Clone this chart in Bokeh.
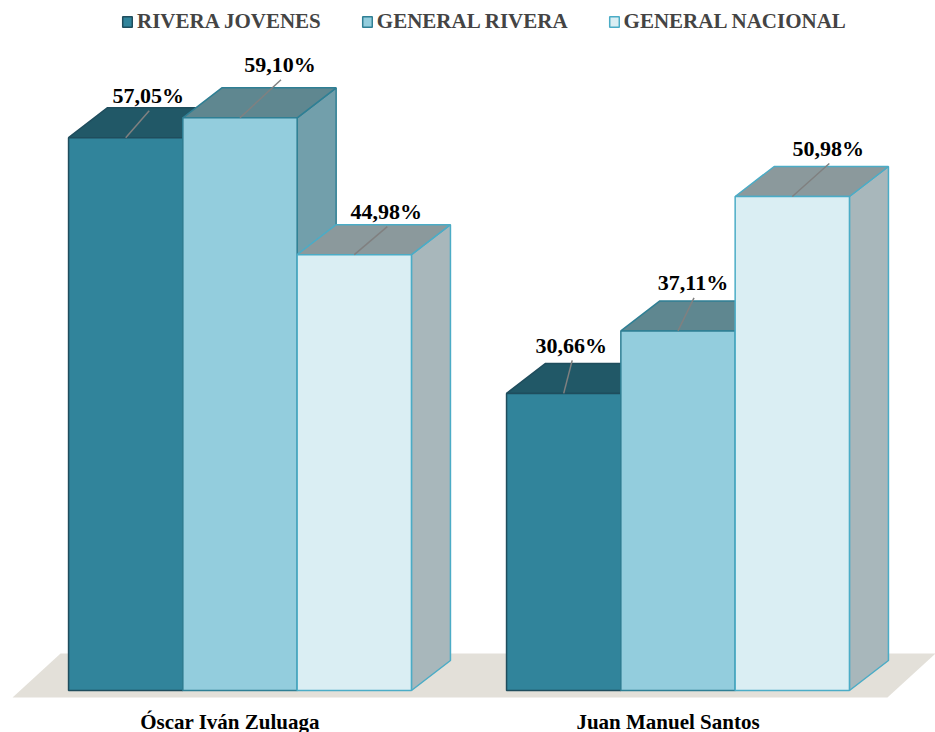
from bokeh.plotting import figure
from bokeh.models import Range1d, Legend, LegendItem, ColumnDataSource
from bokeh.core.properties import value
from bokeh.embed import file_html
from bokeh.resources import INLINE

# ---------------- data ----------------
categories = ["Óscar Iván Zuluaga", "Juan Manuel Santos"]
series = ["RIVERA JOVENES", "GENERAL RIVERA", "GENERAL NACIONAL"]
rivera_jovenes = [57.05, 30.66]
general_rivera = [59.10, 37.11]
general_nacional = [44.98, 50.98]
values = [rivera_jovenes, general_rivera, general_nacional]

# ---------------- style ----------------
front_colors = ["#31849B", "#93CDDD", "#DAEEF3"]
top_colors = ["#215867", "#5F8790", "#8B999C"]
side_colors = ["#24606F", "#729FAB", "#A8B7BB"]
edge_colors = ["#1F4D5D", "#2F7F94", "#4BACC6"]
floor_color = "#E3E0D9"
FONT = "Liberation Serif"

W, H = 935, 732
PX_X = 438.0      # pixels per category step
PX_Y = 9.69       # pixels per percentage point
x_start = -239.5 / PX_X
y_start = -42.0 / PX_Y
BW = 114.3 / PX_X          # bar width
DX = 39.0 / PX_X           # depth offset x
DY = 30.0 / PX_Y           # depth offset y

# label offsets (pixels, relative to front-top centre of each bar)
label_dx = [[22.5, 7.5], [40, 15], [32, 36]]
label_dy = [[42, 48], [53, 48], [43, 48]]

p = figure(width=W, height=H, output_backend="svg", toolbar_location=None,
           x_range=Range1d(x_start, x_start + W / PX_X),
           y_range=Range1d(y_start, y_start + H / PX_Y),
           x_axis_type=None, y_axis_type=None, min_border=0)
p.grid.visible = False
p.outline_line_color = None
p.background_fill_color = "white"

# floor
cx = list(range(len(categories)))
fl_l = cx[0] - 1.5 * BW - 56 / PX_X
fl_r = cx[-1] + 1.5 * BW + 38 / PX_X
fl_b = -7 / PX_Y
fl_t = 37 / PX_Y
fl_dx = 48 / PX_X
p.patch([fl_l, fl_r, fl_r + fl_dx, fl_l + fl_dx], [fl_b, fl_b, fl_t, fl_t],
        fill_color=floor_color, line_color=None)

front_renderers = []
for s, vals in enumerate(values):
    xs_b, ys_b, col_b = [], [], []
    xs_f, ys_f = [], []
    for c, v in enumerate(vals):
        x0 = cx[c] + (s - 1.5) * BW
        x1 = x0 + BW
        # side face
        xs_b.append([x1, x1 + DX, x1 + DX, x1]); ys_b.append([0, DY, v + DY, v]); col_b.append(side_colors[s])
        # top face
        xs_b.append([x0, x1, x1 + DX, x0 + DX]); ys_b.append([v, v, v + DY, v + DY]); col_b.append(top_colors[s])
        # front face
        xs_f.append([x0, x1, x1, x0]); ys_f.append([0, 0, v, v])
    src = ColumnDataSource(dict(xs=xs_b, ys=ys_b, c=col_b))
    p.patches("xs", "ys", source=src, fill_color="c", line_color=edge_colors[s], line_width=1.5)
    r = p.patches(xs_f, ys_f, fill_color=front_colors[s], line_color=edge_colors[s], line_width=1.5)
    front_renderers.append(r)

# value labels and leader lines
lx, ly, lt, sx0, sy0, sx1, sy1 = [], [], [], [], [], [], []
for s, vals in enumerate(values):
    for c, v in enumerate(vals):
        xc = cx[c] + (s - 1) * BW
        tx = xc + label_dx[s][c] / PX_X
        ty = v + label_dy[s][c] / PX_Y
        lx.append(tx); ly.append(ty)
        lt.append(f"{v:.2f}".replace(".", ",") + "%")
        sx0.append(xc); sy0.append(v)
        sx1.append(tx + 1 / PX_X); sy1.append(ty - 15 / PX_Y)
p.segment(sx0, sy0, sx1, sy1, line_color="#808080", line_width=1.5)
p.text(lx, ly, text=lt, text_font=value(FONT), text_font_style="bold",
       text_font_size="22px", text_align="center", text_baseline="middle", text_color="black")

# category labels
p.text([c - 10 / PX_X for c in cx], [-31 / PX_Y] * len(cx), text=categories,
       text_font=value(FONT), text_font_style="bold", text_font_size="21px",
       text_align="center", text_baseline="alphabetic", text_color="black")

legend = Legend(items=[LegendItem(label=n, renderers=[front_renderers[i]]) for i, n in enumerate(series)],
                orientation="horizontal", location=(121, H - 34),
                border_line_color=None, background_fill_alpha=0,
                label_text_font=FONT, label_text_font_style="bold", label_text_font_size="21px",
                glyph_width=12, glyph_height=13, label_standoff=4, spacing=40,
                padding=0, margin=0, label_height=22)
p.add_layout(legend)

open("out.html", "w").write(file_html(p, INLINE))
